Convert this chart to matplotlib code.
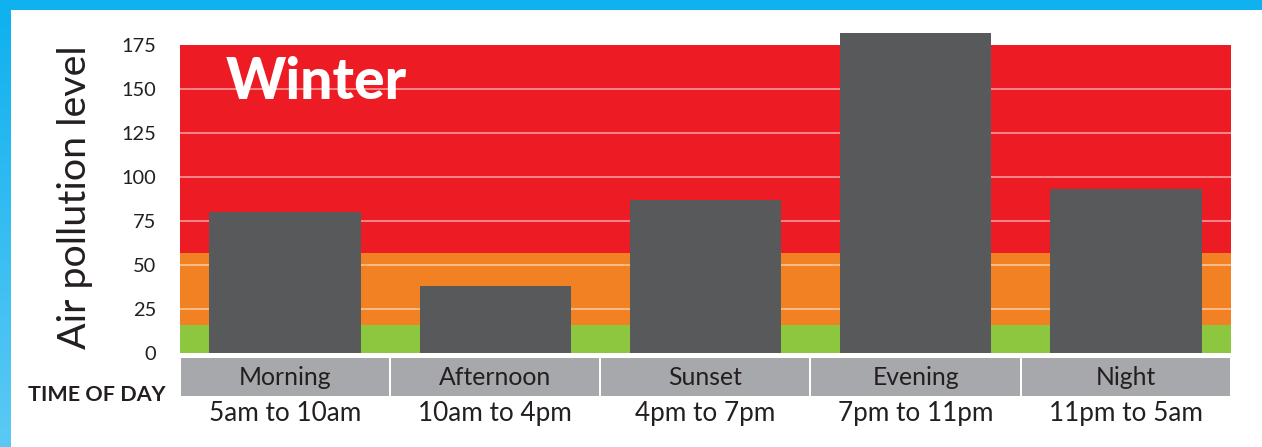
import numpy as np
import matplotlib
matplotlib.use("Agg")
import matplotlib.pyplot as plt
import matplotlib.transforms as mtransforms
from matplotlib.patches import Rectangle
from matplotlib import font_manager

# data
periods = ["Morning", "Afternoon", "Sunset", "Evening", "Night"]
hours = ["5am to 10am", "10am to 4pm", "4pm to 7pm", "7pm to 11pm", "11pm to 5am"]
pollution = [80, 38, 87, 182, 93]
yticks = [0, 25, 50, 75, 100, 125, 150, 175]
band_edges = [0, 16, 57, 175]
band_colors = ["#8dc63f", "#f28123", "#ed1c24"]

names = {f.name for f in font_manager.fontManager.ttflist}
narrow = "Lato" if "Lato" in names else "DejaVu Sans"
plt.rcParams["font.family"] = [narrow, "DejaVu Sans"]

W, H = 1262, 447
fig = plt.figure(figsize=(W / 100, H / 100), dpi=100)
fig.patch.set_facecolor("white")
renderer = fig.canvas.get_renderer()


def fit(texts, target, along="w"):
    # scale font size so that the first text spans `target` pixels
    bb = texts[0].get_window_extent(renderer)
    cur = bb.width if along == "w" else bb.height
    size = texts[0].get_fontsize() * target / cur
    for t in texts:
        t.set_fontsize(size)


# blue frame (top + left gradient)
top = fig.add_axes([0, 1 - 10 / H, 1, 10 / H])
top.set_facecolor("#0fb1ef")
top.set_xticks([]); top.set_yticks([])
for s in top.spines.values():
    s.set_visible(False)
left = fig.add_axes([0, 0, 11 / W, 1 - 10 / H])
grad = np.linspace(0, 1, 256).reshape(-1, 1)
cmap = matplotlib.colors.LinearSegmentedColormap.from_list("edge", ["#0fb1ef", "#5cc9f5"])
left.imshow(grad, aspect="auto", cmap=cmap, extent=[0, 1, 1, 0])
left.axis("off")

# main axes
x0, x1, y0, y1 = 180, 1231, 353, 45
ax = fig.add_axes([x0 / W, (H - y0) / H, (x1 - x0) / W, (y0 - y1) / H])
x = np.arange(len(periods))
ax.set_xlim(-0.5, len(periods) - 0.5)
ax.set_ylim(0, 175)

for lo, hi, c in zip(band_edges[:-1], band_edges[1:], band_colors):
    ax.axhspan(lo, hi, color=c, zorder=0, lw=0)
for t in yticks[1:-1]:
    ax.axhline(t, color="white", alpha=0.55, lw=1.2, zorder=1)

ax.bar(x, pollution, width=0.72, color="#58595b", zorder=2, clip_on=False)

for s in ax.spines.values():
    s.set_visible(False)
ax.set_xticks([])
ax.set_yticks(yticks)
ax.tick_params(axis="y", length=0, pad=17, labelsize=15, labelcolor="#231f20")
ticklabels = ax.get_yticklabels()
fit([ticklabels[-1]], 35)
ax.tick_params(axis="y", labelsize=ticklabels[-1].get_fontsize())

winter = ax.text(0.043, 0.877, "Winter", transform=ax.transAxes,
                 fontweight="black", fontsize=42, color="white", va="center", ha="left")
fit([winter], 182)

# category boxes under the axis
trans = mtransforms.blended_transform_factory(ax.transData, ax.transAxes)
cat_txt, hour_txt = [], []
for i, (p, h) in enumerate(zip(periods, hours)):
    ax.add_patch(Rectangle((i - 0.5 + 0.004, -0.140), 0.99, 0.124, transform=trans,
                           facecolor="#a7a8ab", edgecolor="none", clip_on=False))
    cat_txt.append(ax.text(i, -0.078, p, transform=trans, ha="center",
                           va="center", fontsize=18, color="#231f20"))
    hour_txt.append(ax.text(i, -0.197, h, transform=trans, ha="center",
                            va="center", fontsize=20, color="#231f20"))
fit(cat_txt, 92)
fit(hour_txt, 152)

tod = fig.text(97 / W, (H - 395) / H, "TIME OF DAY", ha="center", va="center",
               fontsize=17, fontweight="bold", color="#231f20")
fit([tod], 137)
ylab = fig.text(75 / W, (H - 197) / H, "Air pollution level", rotation=90,
                ha="center", va="center", fontsize=34, color="#231f20")
fit([ylab], 305, along="h")

fig.savefig("out.png", dpi=100)
